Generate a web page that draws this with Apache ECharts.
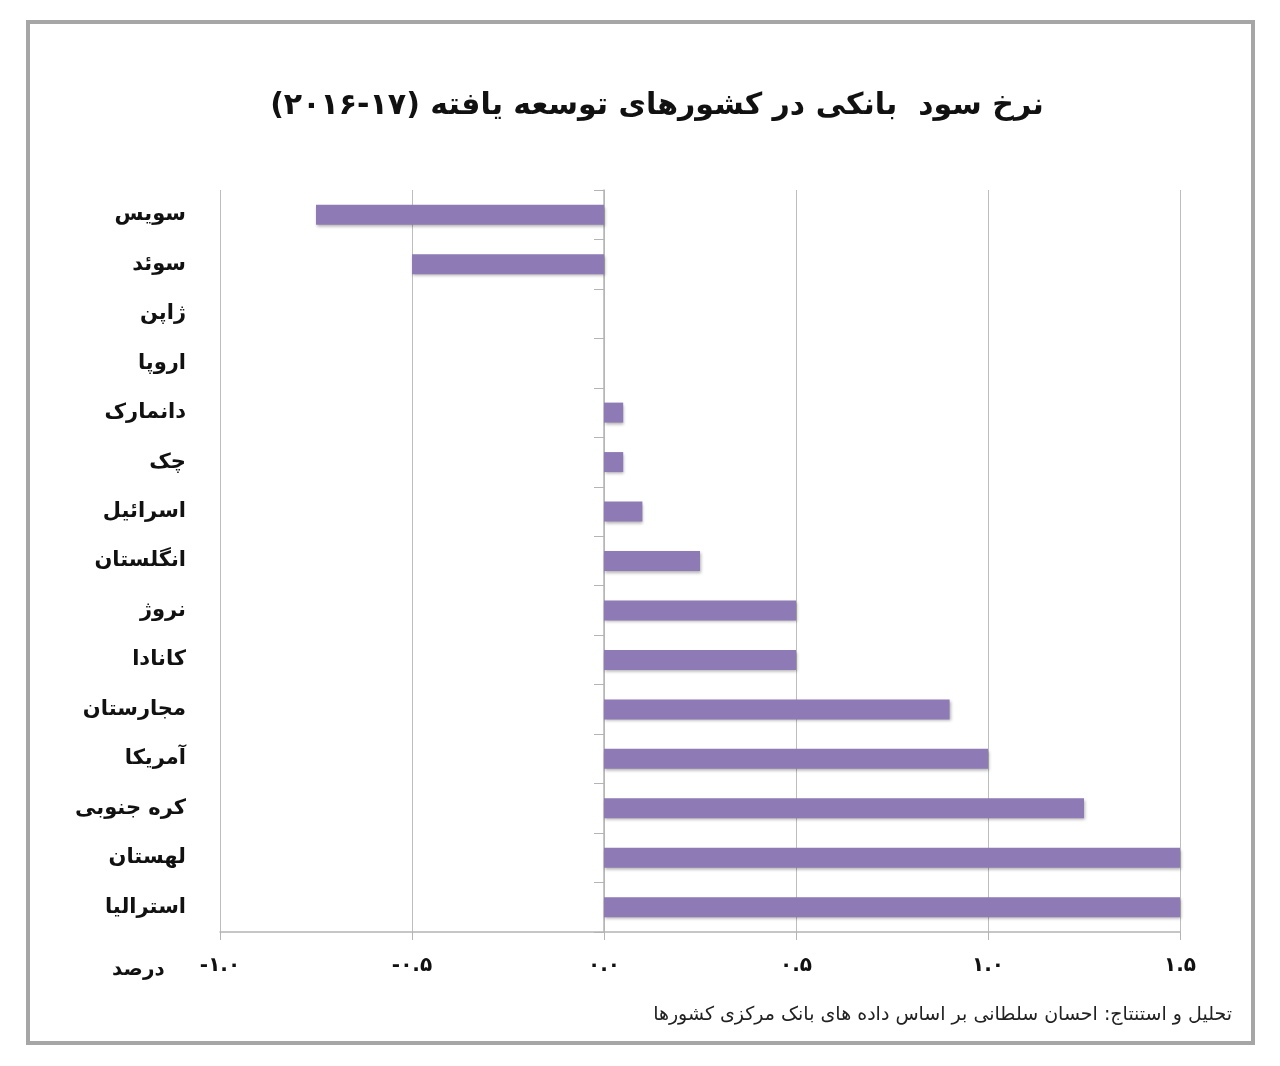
<!DOCTYPE html>
<html>
<head>
<meta charset="utf-8">
<script src="https://cdn.jsdelivr.net/npm/echarts@6/dist/echarts.min.js"></script>
<style>
html, body { margin: 0; padding: 0; background: #fff; }
#chart { width: 1280px; height: 1066px; }
</style>
</head>
<body>
<div id="chart"></div>
<script>
var countries = ['سویس', 'سوئد', 'ژاپن', 'اروپا', 'دانمارک', 'چک', 'اسرائیل', 'انگلستان',
    'نروژ', 'کانادا', 'مجارستان', 'آمریکا', 'کره جنوبی', 'لهستان', 'استرالیا'];
var rates = [-0.75, -0.5, 0, 0, 0.05, 0.05, 0.1, 0.25, 0.5, 0.5, 0.9, 1.0, 1.25, 1.5, 1.5];

var FONT = 'DejaVu Sans';

function toPersian(v) {
    var d = '۰۱۲۳۴۵۶۷۸۹';
    return v.toFixed(1).replace(/[0-9]/g, function (c) { return d[+c]; });
}

var chart = echarts.init(document.getElementById('chart'));
chart.setOption({
    backgroundColor: '#fff',
    textStyle: { fontFamily: FONT },
    graphic: [{
        type: 'rect',
        shape: { x: 28, y: 22, width: 1225, height: 1021 },
        style: { fill: 'none', stroke: '#a6a6a6', lineWidth: 4 }
    }],
    title: [{
        text: 'نرخ سود  بانکی در کشورهای توسعه یافته (۱۷-۲۰۱۶)',
        left: 652,
        top: 86,
        textAlign: 'center',
        textStyle: { fontFamily: FONT, fontSize: 30, fontWeight: 'bold', color: '#111' }
    }, {
        text: 'درصد',
        left: 107,
        top: 955,
        textStyle: { fontFamily: FONT, fontSize: 20, fontWeight: 'bold', color: '#111' }
    }, {
        text: 'تحلیل و استنتاج: احسان سلطانی بر اساس داده های بانک مرکزی کشورها',
        right: 43,
        top: 1001,
        textStyle: { fontFamily: FONT, fontSize: 19, fontWeight: 'normal', color: '#222' }
    }],
    grid: { left: 220, right: 100, top: 190, bottom: 134, containLabel: false, outerBoundsMode: 'none' },
    xAxis: {
        type: 'value',
        min: -1,
        max: 1.5,
        interval: 0.5,
        axisLine: { show: true, lineStyle: { color: '#b4b4b4', width: 1.5 } },
        axisTick: { show: true, length: 8, lineStyle: { color: '#b4b4b4' } },
        axisLabel: {
            margin: 24,
            fontFamily: FONT, fontSize: 20, fontWeight: 'bold', color: '#111',
            formatter: function (v) { return toPersian(v); }
        },
        splitLine: { show: true, lineStyle: { color: '#bdbdbd', width: 1 } }
    },
    yAxis: {
        type: 'category',
        data: countries,
        inverse: true,
        axisLine: { show: true, onZero: true, lineStyle: { color: '#b4b4b4', width: 1.5 } },
        axisTick: { show: true, length: 10, lineStyle: { color: '#b4b4b4' } },
        axisLabel: {
            margin: 34,
            fontFamily: FONT, fontSize: 21, fontWeight: 'bold', color: '#111'
        }
    },
    series: [{
        type: 'bar',
        data: rates,
        barWidth: 20,
        itemStyle: {
            color: '#8e7ab5',
            shadowColor: 'rgba(0,0,0,0.3)',
            shadowBlur: 3,
            shadowOffsetX: 1,
            shadowOffsetY: 2
        }
    }]
});
</script>
</body>
</html>
